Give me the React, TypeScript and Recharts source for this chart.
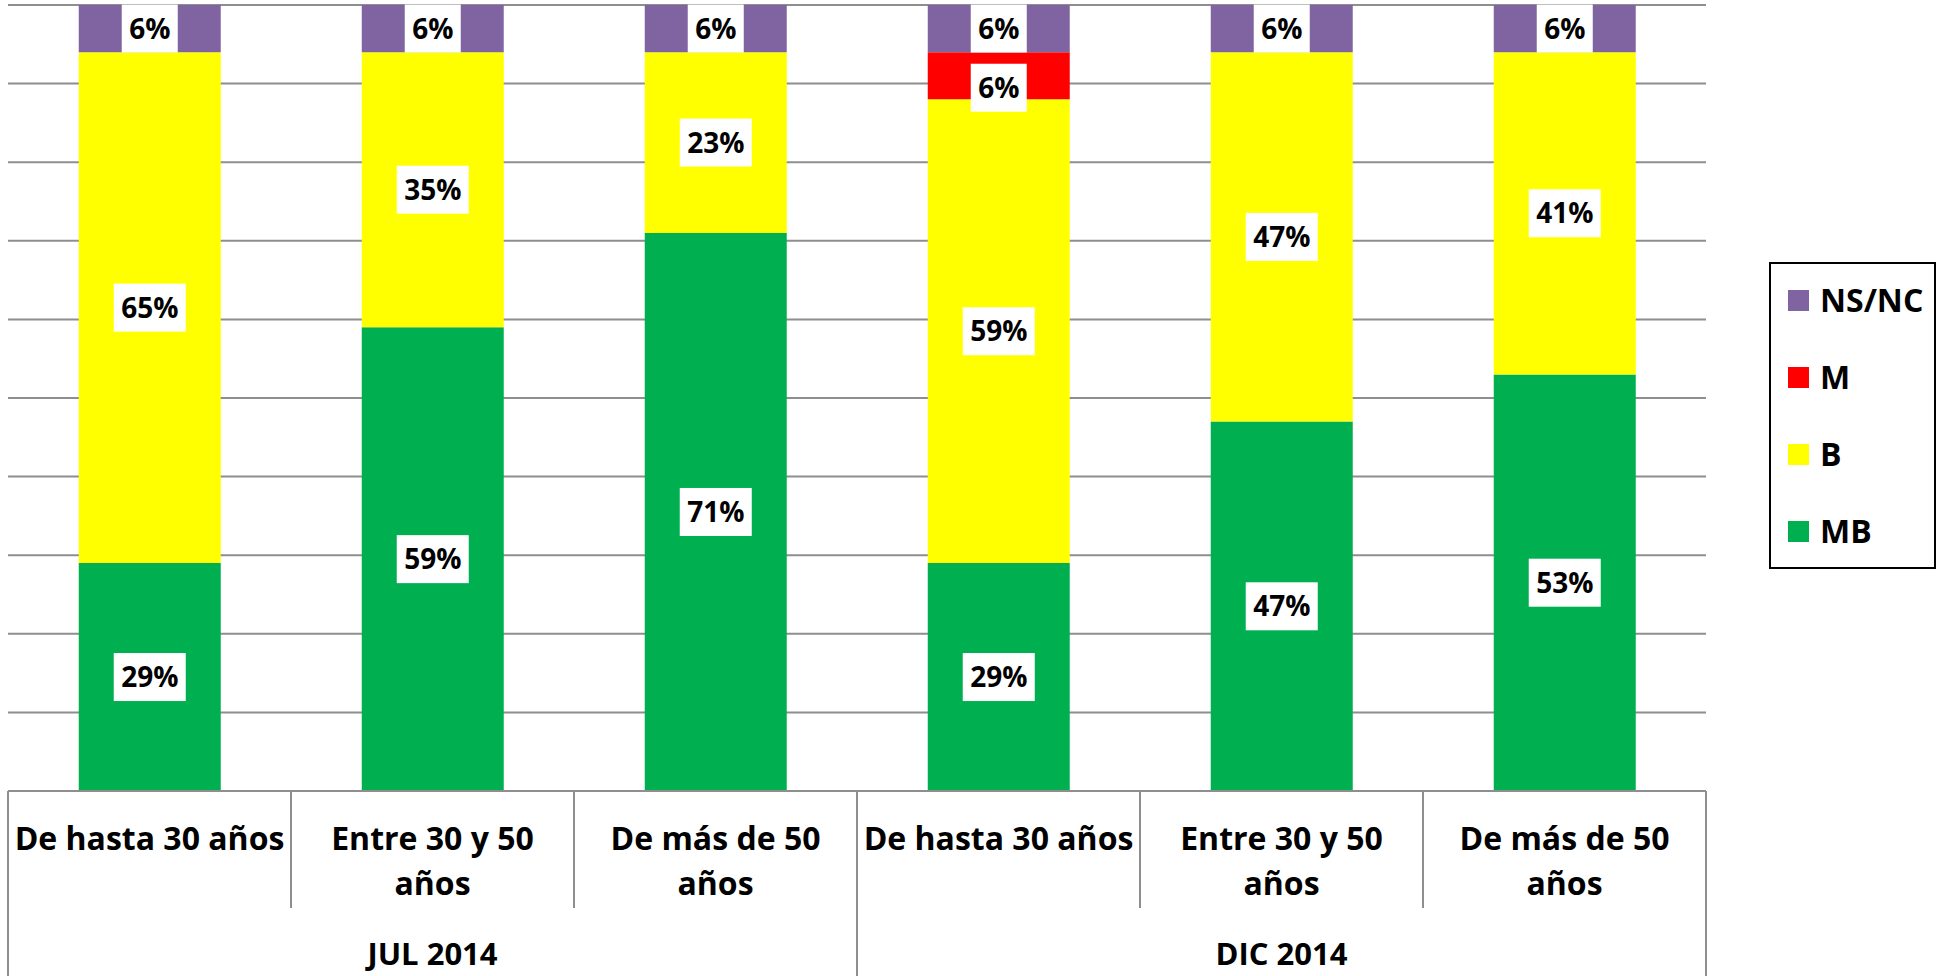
import React from 'react';
import { BarChart, Bar, XAxis, YAxis, CartesianGrid, Legend, LabelList } from 'recharts';

// ---------- data ----------
const categoryLabels: string[][] = [
  ['De hasta 30 años'],
  ['Entre 30 y 50', 'años'],
  ['De más de 50', 'años'],
  ['De hasta 30 años'],
  ['Entre 30 y 50', 'años'],
  ['De más de 50', 'años'],
];
const periods = ['JUL 2014', 'JUL 2014', 'JUL 2014', 'DIC 2014', 'DIC 2014', 'DIC 2014'];
const mbValues = [29, 59, 71, 29, 47, 53];
const bValues = [65, 35, 23, 59, 47, 41];
const mValues = [0, 0, 0, 6, 0, 0];
const nsncValues = [6, 6, 6, 6, 6, 6];
const yTicks = [0, 10, 20, 30, 40, 50, 60, 70, 80, 90, 100];
const legendOrder = ['NS/NC', 'M', 'B', 'MB'];

const data = categoryLabels.map((lines, i) => ({
  id: `${periods[i]}|${lines.join(' ')}`,
  MB: mbValues[i],
  B: bValues[i],
  M: mValues[i],
  NSNC: nsncValues[i],
}));

// ---------- layout / style ----------
const CHART_W = 1944;
const CHART_H = 976;
const MARGIN = { top: 5, right: 238, bottom: 0, left: 8 };
const XAXIS_H = 185;
const PLOT_W = CHART_W - MARGIN.left - MARGIN.right;
const BAND = PLOT_W / data.length;
const FONT = '"Open Sans", "Noto Sans", sans-serif';
const GRID = '#8E8E8E';

const COLORS = { MB: '#00B050', B: '#FFFF00', M: '#FF0000', NSNC: '#8064A2' };

function CategoryTick(props: any) {
  const { x, y, index } = props;
  const lines = categoryLabels[index] || [];
  const half = BAND / 2;
  const isStart = index === 0 || periods[index] !== periods[index - 1];
  const isEnd = index === periods.length - 1 || periods[index] !== periods[index + 1];
  let groupCount = 0;
  if (isStart) {
    for (let j = index; j < periods.length && periods[j] === periods[index]; j++) groupCount++;
  }
  const bottom = y + XAXIS_H;
  return (
    <g>
      {lines.map((l, k) => (
        <text
          key={k}
          x={x}
          y={y + 59 + k * 45}
          textAnchor="middle"
          fontFamily={FONT}
          fontWeight={700}
          fontSize={32}
          fill="#000"
        >
          {l}
        </text>
      ))}
      {index === 0 && <line x1={x - half} x2={x - half} y1={y} y2={bottom} stroke={GRID} strokeWidth={2} />}
      <line x1={x + half} x2={x + half} y1={y} y2={isEnd ? bottom : y + 117} stroke={GRID} strokeWidth={2} />
      {isStart && (
        <text
          x={x + ((groupCount - 1) / 2) * BAND}
          y={y + 174}
          textAnchor="middle"
          fontFamily={FONT}
          fontWeight={700}
          fontSize={31}
          fill="#000"
        >
          {periods[index]}
        </text>
      )}
    </g>
  );
}

const makeLabel = (dy: number) => (props: any) => {
  const vb = props.viewBox || {};
  const x = props.x ?? vb.x;
  const y = props.y ?? vb.y;
  const width = props.width ?? vb.width;
  const height = props.height ?? vb.height;
  const value = props.value;
  if (!value) return null;
  const text = `${value}%`;
  const w = 16 * text.length + 24;
  const cx = x + width / 2;
  const cy = y + height / 2 + dy;
  return (
    <g>
      <rect x={cx - w / 2} y={cy - 24} width={w} height={48} fill="#fff" />
      <text
        x={cx}
        y={cy + 10}
        textAnchor="middle"
        fontFamily={FONT}
        fontWeight={700}
        fontSize={28}
        fill="#000"
      >
        {text}
      </text>
    </g>
  );
};

function LegendBox(props: any) {
  const payload = [...(props.payload || [])].sort(
    (a: any, b: any) => legendOrder.indexOf(a.value) - legendOrder.indexOf(b.value)
  );
  return (
    <div
      style={{
        width: 167,
        height: 307,
        border: '2px solid #000',
        boxSizing: 'border-box',
        position: 'relative',
        background: '#fff',
      }}
    >
      {payload.map((it: any, i: number) => (
        <div
          key={it.value}
          style={{
            position: 'absolute',
            left: 17,
            top: 36 + i * 77 - 20,
            height: 40,
            display: 'flex',
            alignItems: 'center',
            whiteSpace: 'nowrap',
          }}
        >
          <span style={{ width: 21, height: 21, background: it.color, display: 'inline-block' }} />
          <span
            style={{
              marginLeft: 11,
              fontFamily: FONT,
              fontWeight: 700,
              fontSize: 32,
              lineHeight: 1,
              color: '#000',
            }}
          >
            {it.value}
          </span>
        </div>
      ))}
    </div>
  );
}

export default function App() {
  return (
    <div style={{ width: CHART_W, height: CHART_H }}>
      <style>{`body{margin:0;}`}</style>
      <BarChart width={CHART_W} height={CHART_H} data={data} margin={MARGIN} barCategoryGap="25%">
        <CartesianGrid vertical={false} stroke={GRID} strokeWidth={2} />
        <YAxis hide domain={[0, 100]} ticks={yTicks} type="number" />
        <XAxis
          dataKey="id"
          height={XAXIS_H}
          interval={0}
          tickLine={false}
          tickSize={0}
          tickMargin={0}
          axisLine={{ stroke: GRID, strokeWidth: 2 }}
          tick={<CategoryTick />}
        />
        <Legend
          layout="vertical"
          align="center"
          verticalAlign="middle"
          content={<LegendBox />}
          wrapperStyle={{ left: 1769, top: 262, width: 167, height: 307 }}
        />
        <Bar dataKey="MB" name="MB" stackId="s" fill={COLORS.MB} isAnimationActive={false}>
          <LabelList dataKey="MB" content={makeLabel(0)} />
        </Bar>
        <Bar dataKey="B" name="B" stackId="s" fill={COLORS.B} isAnimationActive={false}>
          <LabelList dataKey="B" content={makeLabel(0)} />
        </Bar>
        <Bar dataKey="M" name="M" stackId="s" fill={COLORS.M} isAnimationActive={false}>
          <LabelList dataKey="M" content={makeLabel(12)} />
        </Bar>
        <Bar dataKey="NSNC" name="NS/NC" stackId="s" fill={COLORS.NSNC} isAnimationActive={false}>
          <LabelList dataKey="NSNC" content={makeLabel(0)} />
        </Bar>
      </BarChart>
    </div>
  );
}
